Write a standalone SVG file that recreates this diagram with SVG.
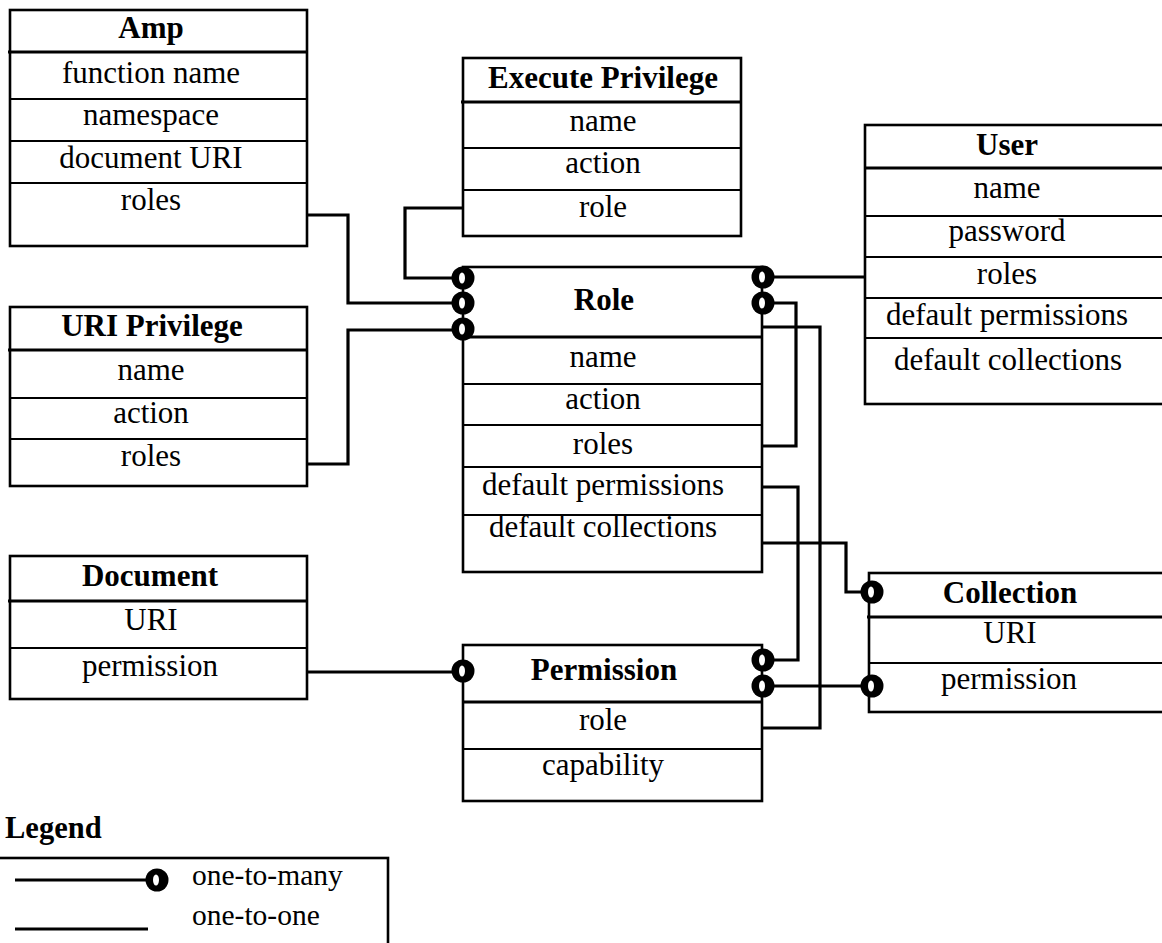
<svg xmlns="http://www.w3.org/2000/svg" width="1162" height="943" viewBox="0 0 1162 943">
<style>
.box{fill:#fff;stroke:#000;stroke-width:2.6}
.hdr{stroke:#000;stroke-width:3.2}
.sep{stroke:#000;stroke-width:2.2}
.t{font-family:"Liberation Serif","Times New Roman",serif;font-size:31px;text-anchor:middle;fill:#000}
.b{font-weight:bold}
.conn{fill:none;stroke:#000;stroke-width:3.2}
.lg{font-family:"Liberation Serif","Times New Roman",serif;font-size:29.5px;fill:#000}
</style>
<defs>
<g id="c"><circle r="11.5" fill="#000"/><ellipse cx="-1" rx="3" ry="5.5" fill="#fff"/></g>
</defs>
<rect width="1162" height="943" fill="#fff"/>

<g id="connectors">
<path class="conn" d="M307 215H348V303H463"/>
<path class="conn" d="M463 208H405V278H463"/>
<path class="conn" d="M307 464H348V330H463"/>
<path class="conn" d="M763 277H866"/>
<path class="conn" d="M763 446H796V303H763"/>
<path class="conn" d="M763 327H820V728H763"/>
<path class="conn" d="M763 487H798V660H763"/>
<path class="conn" d="M763 543H846V592H872"/>
<path class="conn" d="M763 686H872"/>
<path class="conn" d="M307 672H463"/>
</g>

<g id="amp">
<rect class="box" x="10" y="10" width="297" height="236"/>
<line class="hdr" x1="8" y1="52" x2="307" y2="52"/>
<line class="sep" x1="10" y1="99" x2="307" y2="99"/>
<line class="sep" x1="10" y1="141" x2="307" y2="141"/>
<line class="sep" x1="10" y1="183" x2="307" y2="183"/>
<text class="t b" x="151" y="38">Amp</text>
<text class="t" x="151" y="83">function name</text>
<text class="t" x="151" y="125">namespace</text>
<text class="t" x="151" y="168">document URI</text>
<text class="t" x="151" y="210">roles</text>
</g>

<g id="execute-privilege">
<rect class="box" x="463" y="58" width="278" height="178"/>
<line class="hdr" x1="461" y1="102" x2="741" y2="102"/>
<line class="sep" x1="463" y1="148" x2="741" y2="148"/>
<line class="sep" x1="463" y1="190" x2="741" y2="190"/>
<text class="t b" x="603" y="88">Execute Privilege</text>
<text class="t" x="603" y="131">name</text>
<text class="t" x="603" y="173">action</text>
<text class="t" x="603" y="217">role</text>
</g>

<g id="user">
<rect class="box" x="865" y="125" width="300" height="279"/>
<line class="hdr" x1="865" y1="168" x2="1165" y2="168"/>
<line class="sep" x1="865" y1="216" x2="1165" y2="216"/>
<line class="sep" x1="865" y1="257" x2="1165" y2="257"/>
<line class="sep" x1="865" y1="298" x2="1165" y2="298"/>
<line class="sep" x1="865" y1="338" x2="1165" y2="338"/>
<text class="t b" x="1007" y="155">User</text>
<text class="t" x="1007" y="198">name</text>
<text class="t" x="1007" y="241">password</text>
<text class="t" x="1007" y="284">roles</text>
<text class="t" x="1007" y="325">default permissions</text>
<text class="t" x="1008" y="370">default collections</text>
</g>

<g id="role">
<rect class="box" x="463" y="267" width="299" height="305"/>
<line class="hdr" x1="463" y1="337" x2="763" y2="337"/>
<line class="sep" x1="463" y1="384" x2="762" y2="384"/>
<line class="sep" x1="463" y1="425" x2="762" y2="425"/>
<line class="sep" x1="463" y1="467" x2="762" y2="467"/>
<line class="sep" x1="463" y1="515" x2="762" y2="515"/>
<text class="t b" x="604" y="310">Role</text>
<text class="t" x="603" y="367">name</text>
<text class="t" x="603" y="409">action</text>
<text class="t" x="603" y="454">roles</text>
<text class="t" x="603" y="495">default permissions</text>
<text class="t" x="603" y="537">default collections</text>
</g>

<g id="uri-privilege">
<rect class="box" x="10" y="307" width="297" height="179"/>
<line class="hdr" x1="8" y1="350" x2="307" y2="350"/>
<line class="sep" x1="10" y1="398" x2="307" y2="398"/>
<line class="sep" x1="10" y1="439" x2="307" y2="439"/>
<text class="t b" x="152" y="336">URI Privilege</text>
<text class="t" x="151" y="380">name</text>
<text class="t" x="151" y="423">action</text>
<text class="t" x="151" y="466">roles</text>
</g>

<g id="document">
<rect class="box" x="10" y="556" width="297" height="143"/>
<line class="hdr" x1="8" y1="601" x2="307" y2="601"/>
<line class="sep" x1="10" y1="648" x2="307" y2="648"/>
<text class="t b" x="150" y="586">Document</text>
<text class="t" x="151" y="630">URI</text>
<text class="t" x="150" y="676">permission</text>
</g>

<g id="permission">
<rect class="box" x="463" y="645" width="299" height="156"/>
<line class="hdr" x1="463" y1="702" x2="762" y2="702"/>
<line class="sep" x1="463" y1="749" x2="762" y2="749"/>
<text class="t b" x="604" y="680">Permission</text>
<text class="t" x="603" y="730">role</text>
<text class="t" x="603" y="775">capability</text>
</g>

<g id="collection">
<rect class="box" x="869" y="573" width="296" height="139"/>
<line class="hdr" x1="867" y1="617" x2="1165" y2="617"/>
<line class="sep" x1="869" y1="663" x2="1165" y2="663"/>
<text class="t b" x="1010" y="603">Collection</text>
<text class="t" x="1010" y="643">URI</text>
<text class="t" x="1009" y="689">permission</text>
</g>

<g id="ends">
<use href="#c" x="463" y="278"/>
<use href="#c" x="463" y="303"/>
<use href="#c" x="463" y="329"/>
<use href="#c" x="763" y="277"/>
<use href="#c" x="763" y="303"/>
<use href="#c" x="463" y="671"/>
<use href="#c" x="763" y="660"/>
<use href="#c" x="763" y="686"/>
<use href="#c" x="872" y="592"/>
<use href="#c" x="872" y="686"/>
</g>

<g id="legend">
<text class="lg b" x="5" y="838" style="font-size:30.5px">Legend</text>
<rect class="box" x="-5" y="858" width="393" height="100"/>
<line class="conn" x1="15" y1="880" x2="150" y2="880"/>
<use href="#c" x="157" y="880"/>
<text class="lg" x="192" y="885">one-to-many</text>
<line class="conn" x1="15" y1="929" x2="148" y2="929"/>
<text class="lg" x="192" y="925">one-to-one</text>
</g>
</svg>
